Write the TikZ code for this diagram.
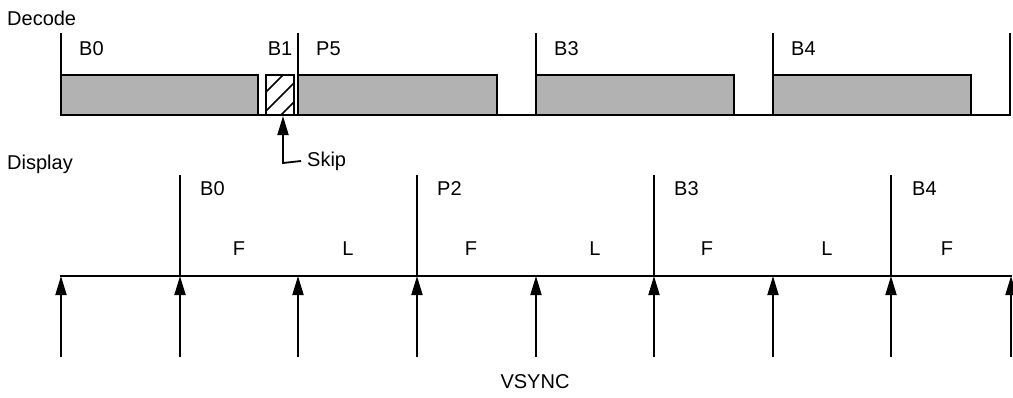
\documentclass[tikz,border=0pt]{standalone}
\usepackage{fontspec}
\setmainfont{Liberation Sans}
\usetikzlibrary{arrows.meta}
\begin{document}
\begin{tikzpicture}[x=1pt,y=-1pt,
  lbl/.style={inner sep=0pt,font=\fontsize{20}{24}\selectfont},
  llbl/.style={lbl,anchor=west},
  rule/.style={line width=1.8pt,line cap=rect},
  thin rule/.style={line width=1.5pt},
  blk/.style={line width=1.8pt,fill=black!30},
  hatchbox/.style={line width=1.8pt,fill=white},
  vs/.style={line width=1.8pt,-{Triangle[length=19pt,width=11pt]}},
  skiparrow/.style={line width=1.8pt,{Triangle[length=19pt,width=11pt]}-}]
\useasboundingbox (0,0) rectangle (1013,397);
% ---- Decode ----
\node[llbl] (dec) at (7,18) {Decode};
\foreach \x/\n in {61/d0,298/d1,536/d2,773/d3,1010/d4}{
  \coordinate (\n t) at (\x,33);
  \coordinate (\n b) at (\x,115);
  \draw[thin rule] (\n t) -- (\n b);
}
\draw[rule] (d0b) -- (d4b);
\draw[blk] (61,75) rectangle (258,115);
\draw[blk] (298,75) rectangle (497,115);
\draw[blk] (536,75) rectangle (734,115);
\draw[blk] (773,75) rectangle (971,115);
\draw[hatchbox] (266,75) rectangle (294,115);
\begin{scope}
  \clip (266,75) rectangle (294,115);
  \foreach \c in {358,377,396}{
    \draw[line width=1.5pt] (\c-115,115) -- (\c-75,75);
  }
\end{scope}
\draw[hatchbox,fill=none] (266,75) rectangle (294,115);
\node[llbl] (lb0) at (79,49) {B0};
\node[lbl] (lb1) at (280,49) {B1};
\node[llbl] (lp5) at (316,49) {P5};
\node[llbl] (lb3) at (554,49) {B3};
\node[llbl] (lb4) at (791,49) {B4};
% Skip
\coordinate (skiptip) at (283,116);
\coordinate (skipcorner) at (283,163);
\node[llbl] (skip) at (307,161) {Skip};
\draw[skiparrow] (skiptip) -- (skipcorner) -- (skip.west -| 301,163);
% ---- Display ----
\node[llbl] (disp) at (7,164) {Display};
\draw[rule] (61,276) coordinate (tl0) -- (1011,276) coordinate (tl1);
\foreach \x/\n in {180/e0,417/e1,654/e2,891/e3}{
  \coordinate (\n t) at (\x,175);
  \coordinate (\n b) at (\x,276);
  \draw[rule,line cap=butt] (\n t) -- (\n b);
}
\foreach \x [count=\i] in {61,180,298,417,536,654,773,891,1011}{
  \coordinate (v\i a) at (\x,357);
  \coordinate (v\i b) at (\x,276);
  \draw[vs] (v\i a) -- (v\i b);
}
\node[llbl] (db0) at (200,189) {B0};
\node[llbl] (dp2) at (437,189) {P2};
\node[llbl] (db3) at (674,189) {B3};
\node[llbl] (db4) at (912,189) {B4};
\foreach \x/\t [count=\i] in {239/F,348/L,471/F,595/L,707/F,827/L,947/F}{
  \node[lbl] (fl\i) at (\x,249) {\t};
}
\node[lbl] (vsync) at (535,382) {VSYNC};
\end{tikzpicture}
\end{document}
